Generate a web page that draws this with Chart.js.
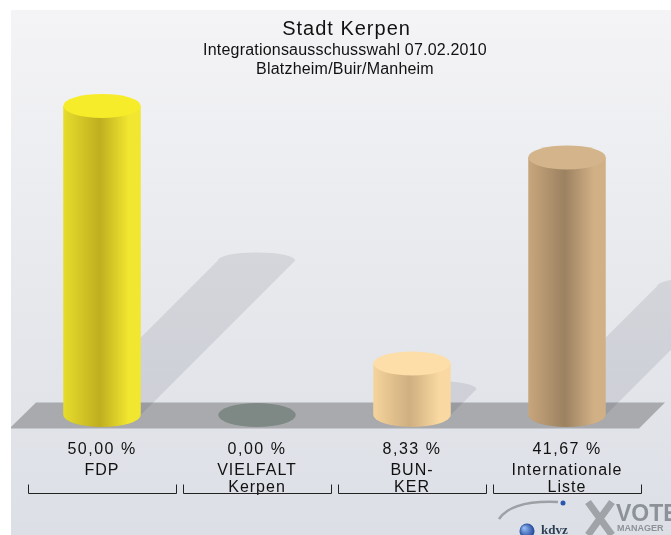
<!DOCTYPE html>
<html>
<head>
<meta charset="utf-8">
<script src="https://cdn.jsdelivr.net/npm/chart.js@4.4.1/dist/chart.umd.min.js"></script>
<style>
  html, body { margin: 0; padding: 0; background: #fff; overflow: hidden; }
  #wrap { position: relative; width: 671px; height: 535px; }
</style>
</head>
<body>
<div id="wrap"><canvas id="chart" width="671" height="535"></canvas></div>
<script>
const parties = [['FDP'], ['VIELFALT', 'Kerpen'], ['BUN-', 'KER'], ['Internationale', 'Liste']];
const shares = [50.00, 0.00, 8.33, 41.67];
const shareLabels = ['50,00 %', '0,00 %', '8,33 %', '41,67 %'];
const titleLines = ['Stadt Kerpen', 'Integrationsausschusswahl 07.02.2010', 'Blatzheim/Buir/Manheim'];

// cylinder shading: left, dark middle, right, top cap
const cylColors = [
    ['#e6dd2c', '#bfae1f', '#f2e730', '#f7ec2a'],
    ['#7e8986', '#7e8986', '#7e8986', '#7e8986'],
    ['#f5d49c', '#cfae80', '#f9d9a1', '#fddea8'],
    ['#c8a67c', '#9c8261', '#d1b086', '#d4b58b']
];

const FONT = '"Liberation Sans", Arial, sans-serif';
const RY = 12; // vertical radius of the ellipses

const backdrop = {
    id: 'backdrop',
    beforeDraw(chart) {
        const ctx = chart.ctx;
        ctx.save();
        ctx.fillStyle = '#fff';
        ctx.fillRect(0, 0, chart.width, chart.height);
        const g = ctx.createLinearGradient(0, 10, 0, chart.height);
        g.addColorStop(0, '#f4f4f6');
        g.addColorStop(0.55, '#e6e8ec');
        g.addColorStop(1, '#dcdfe6');
        ctx.fillStyle = g;
        ctx.fillRect(11, 10, chart.width - 11, chart.height - 10);

        // titles
        ctx.fillStyle = '#111';
        ctx.textAlign = 'center';
        ctx.font = '20px ' + FONT;
        ctx.letterSpacing = '1px';
        ctx.fillText(titleLines[0], 346.5, 34.7);
        ctx.font = '16px ' + FONT;
        ctx.letterSpacing = '0.2px';
        ctx.fillText(titleLines[1], 345, 54.7);
        ctx.fillText(titleLines[2], 345, 73.7);
        ctx.restore();
        ctx.letterSpacing = '1px'; // for the axis labels
    },
    beforeDatasetsDraw(chart) {
        const ctx = chart.ctx;
        const area = chart.chartArea;
        const base = chart.scales.y.getPixelForValue(0);
        const top = base - 12.5, bottom = base + 13.5;

        ctx.save();
        ctx.beginPath();
        ctx.rect(11, 10, chart.width - 11, chart.height - 10);
        ctx.clip();
        // floor band
        ctx.fillStyle = '#a9aaad';
        ctx.beginPath();
        ctx.moveTo(area.left + 11.5, top);
        ctx.lineTo(area.right + 20.5, top);
        ctx.lineTo(area.right - 5.5, bottom);
        ctx.lineTo(area.left - 15, bottom);
        ctx.closePath();
        ctx.fill();

        // shadows thrown to the upper right
        ctx.fillStyle = 'rgba(40,44,60,0.1)';
        chart.getDatasetMeta(0).data.forEach(bar => {
            const rx = bar.width / 2;
            const d = (bar.base - bar.y) * 0.5;
            if (d <= 0) return;
            ctx.beginPath();
            ctx.moveTo(bar.x - rx, bar.base);
            ctx.lineTo(bar.x - rx + d, bar.base - d);
            ctx.ellipse(bar.x + d, bar.base - d, rx, 8, 0, Math.PI, 2 * Math.PI);
            ctx.lineTo(bar.x + rx, bar.base);
            ctx.ellipse(bar.x, bar.base, rx, RY, 0, 0, Math.PI);
            ctx.closePath();
            ctx.fill();
        });
        ctx.restore();
    },
    afterDatasetsDraw(chart) {
        const ctx = chart.ctx;
        ctx.save();
        chart.getDatasetMeta(0).data.forEach((bar, i) => {
            const c = cylColors[i];
            const rx = bar.width / 2;
            if (bar.base - bar.y < 0.5) {
                ctx.fillStyle = c[3];
                ctx.beginPath();
                ctx.ellipse(bar.x, bar.base, rx, RY, 0, 0, 2 * Math.PI);
                ctx.fill();
                return;
            }
            const g = ctx.createLinearGradient(bar.x - rx, 0, bar.x + rx, 0);
            g.addColorStop(0, c[0]);
            g.addColorStop(0.47, c[1]);
            g.addColorStop(0.85, c[2]);
            g.addColorStop(1, c[2]);
            ctx.fillStyle = g;
            ctx.beginPath();
            ctx.moveTo(bar.x - rx, bar.y);
            ctx.lineTo(bar.x - rx, bar.base);
            ctx.ellipse(bar.x, bar.base, rx, RY, 0, Math.PI, 0, true);
            ctx.lineTo(bar.x + rx, bar.y);
            ctx.closePath();
            ctx.fill();
            ctx.fillStyle = c[3];
            ctx.beginPath();
            ctx.ellipse(bar.x, bar.y, rx, RY, 0, 0, 2 * Math.PI);
            ctx.fill();
        });
        ctx.restore();
    },
    afterDraw(chart) {
        const ctx = chart.ctx;
        const x = chart.scales.x;
        const base = chart.scales.y.getPixelForValue(0);
        const catW = (x.right - x.left) / parties.length;
        ctx.save();
        ctx.fillStyle = '#111';
        ctx.textAlign = 'center';
        ctx.font = '16px ' + FONT;
        ctx.letterSpacing = '1.5px';
        shareLabels.forEach((s, i) => {
            ctx.fillText(s, x.getPixelForValue(i), base + 39.3);
        });

        // brackets under each group
        ctx.strokeStyle = '#222';
        ctx.lineWidth = 1;
        parties.forEach((p, i) => {
            const cx = x.getPixelForValue(i);
            const l = Math.round(cx - catW / 2 + 3) + 0.5;
            const r = Math.round(cx + catW / 2 - 3) - 0.5;
            const y = Math.round(base + 77.5) + 0.5;
            ctx.beginPath();
            ctx.moveTo(l, y - 9);
            ctx.lineTo(l, y);
            ctx.lineTo(r, y);
            ctx.lineTo(r, y - 9);
            ctx.stroke();
        });

        // kdvz / VOTE MANAGER logo
        ctx.letterSpacing = '0px';
        ctx.strokeStyle = '#9da1a6';
        ctx.lineWidth = 2.5;
        ctx.beginPath();
        ctx.moveTo(499, 519);
        ctx.quadraticCurveTo(512, 500, 558, 502);
        ctx.stroke();
        ctx.fillStyle = '#2a56b0';
        ctx.beginPath();
        ctx.arc(563, 503, 2.5, 0, 2 * Math.PI);
        ctx.fill();
        const sg = ctx.createRadialGradient(524, 528, 1, 527, 531, 8);
        sg.addColorStop(0, '#8fb6f0');
        sg.addColorStop(1, '#1b3f94');
        ctx.fillStyle = sg;
        ctx.beginPath();
        ctx.arc(527, 531, 7.5, 0, 2 * Math.PI);
        ctx.fill();
        ctx.fillStyle = '#2d3d52';
        ctx.textAlign = 'left';
        ctx.font = 'bold 13px "Liberation Serif", "DejaVu Serif", serif';
        ctx.fillText('kdvz', 541, 534);
        ctx.strokeStyle = '#a0a4a9';
        ctx.lineWidth = 7;
        ctx.beginPath();
        ctx.moveTo(588, 502); ctx.lineTo(612, 535);
        ctx.moveTo(612, 502); ctx.lineTo(588, 535);
        ctx.stroke();
        ctx.fillStyle = '#8d9298';
        ctx.font = 'bold 23px "Liberation Sans Narrow", "Liberation Sans", Arial, sans-serif';
        ctx.fillText('VOTE', 616, 521);
        ctx.font = 'bold 9px "Liberation Sans Narrow", "Liberation Sans", Arial, sans-serif';
        ctx.fillText('MANAGER', 617, 531);
        ctx.restore();
        ctx.letterSpacing = '0px';
    }
};

new Chart(document.getElementById('chart'), {
    type: 'bar',
    data: {
        labels: parties,
        datasets: [{
            data: shares,
            backgroundColor: 'rgba(0,0,0,0)',
            borderWidth: 0,
            categoryPercentage: 0.5,
            barPercentage: 1
        }]
    },
    options: {
        responsive: false,
        animation: false,
        events: [],
        layout: { padding: { left: 24.5, right: 26.5, top: 75, bottom: 0 } },
        plugins: {
            legend: { display: false },
            tooltip: { enabled: false },
            title: { display: false }
        },
        scales: {
            x: {
                grid: { display: false, drawTicks: false },
                border: { display: false },
                ticks: {
                    autoSkip: false,
                    maxRotation: 0,
                    padding: 47,
                    color: '#111',
                    font: { family: FONT, size: 16, lineHeight: 17 / 16 }
                },
                afterFit(scale) { scale.height = 120; }
            },
            y: {
                display: false,
                min: 0,
                max: 55
            }
        }
    },
    plugins: [backdrop]
});
</script>
</body>
</html>
